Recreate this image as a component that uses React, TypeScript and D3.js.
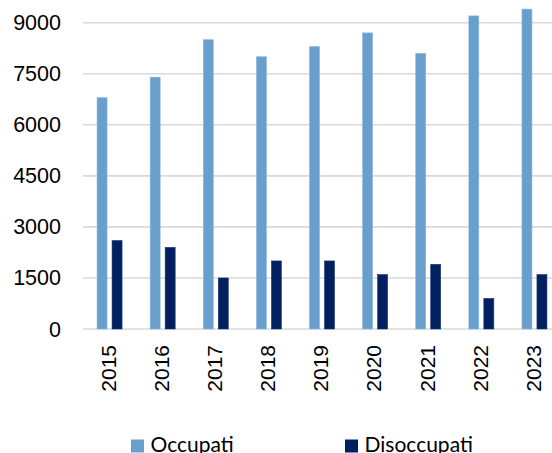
import React from "react";
import * as d3 from "d3";

const years = ["2015", "2016", "2017", "2018", "2019", "2020", "2021", "2022", "2023"];
const occupati = [6800, 7400, 8500, 8000, 8300, 8700, 8100, 9200, 9400];
const disoccupati = [2600, 2400, 1500, 2000, 2000, 1600, 1900, 900, 1600];
const seriesNames = ["Occupati", "Disoccupati"];
const seriesColors = ["#689FCD", "#002060"];
const yTicks = [0, 1500, 3000, 4500, 6000, 7500, 9000];

export default function App() {
  const W = 552;
  const H = 453;
  const x = d3.scaleBand().domain(years).range([83, 561]).paddingInner(0).paddingOuter(0);
  const y = d3.scaleLinear().domain([0, 9000]).range([329, 22.7]);
  const sub = d3.scaleBand().domain(seriesNames).range([-12.5, 12.5]).paddingInner(1 / 3);
  const data = [occupati, disoccupati];

  return (
    <svg
      width={W}
      height={H}
      style={{ position: "absolute", left: 0, top: 0, background: "#fff" }}
    >
      {yTicks.map((t) => (
        <g key={t}>
          <line x1={83} x2={W} y1={y(t)} y2={y(t)} stroke="#d9d9d9" strokeWidth={1.6} />
          <text
            x={61}
            y={y(t)}
            dy="0.35em"
            textAnchor="end"
            fontFamily="Liberation Sans, Arial, sans-serif"
            fontSize={21.5}
            fill="#000"
          >
            {t}
          </text>
        </g>
      ))}
      {years.map((yr, i) => {
        const cx = (x(yr) as number) + x.bandwidth() / 2;
        return (
          <g key={yr}>
            {seriesNames.map((s, k) => (
              <rect
                key={s}
                x={cx + (sub(s) as number)}
                width={sub.bandwidth()}
                y={y(data[k][i])}
                height={y(0) - y(data[k][i])}
                fill={seriesColors[k]}
                stroke={k === 0 ? "#8db8dc" : "#1a3a73"}
                strokeWidth={0.6}
              />
            ))}
            <text
              transform={`translate(${cx - 1},345) rotate(-90)`}
              dy="0.35em"
              textAnchor="end"
              fontFamily="Liberation Sans, Arial, sans-serif"
              fontSize={21}
              fill="#000"
            >
              {yr}
            </text>
          </g>
        );
      })}
      {seriesNames.map((s, k) => {
        const lx = k === 0 ? 131 : 345;
        return (
          <g key={s}>
            <rect x={lx} y={439.5} width={13} height={13} fill={seriesColors[k]} />
            <text x={lx + 19.5} y={452} fontFamily="Lato, sans-serif" fontSize={21} fill="#000">
              {s}
            </text>
          </g>
        );
      })}
    </svg>
  );
}
